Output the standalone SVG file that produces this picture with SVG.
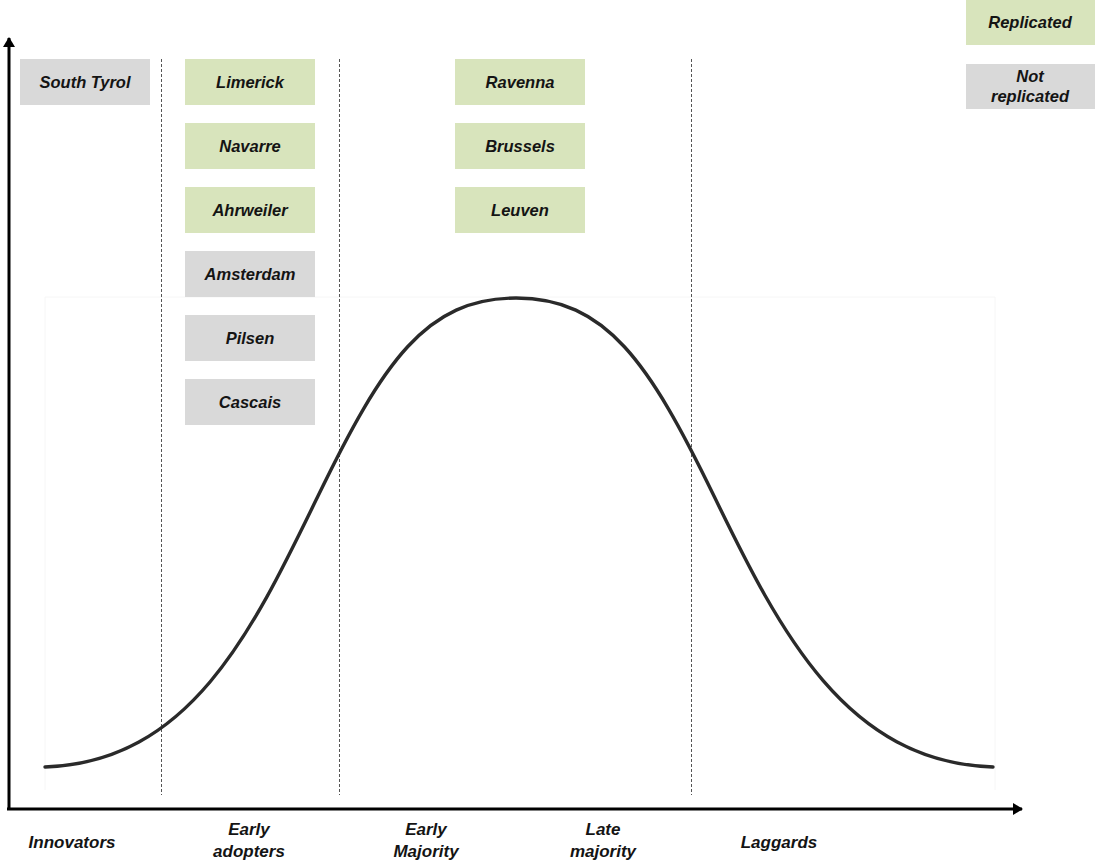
<svg xmlns="http://www.w3.org/2000/svg" width="1097" height="862" viewBox="0 0 1097 862">
  <defs>
    <style>
      .box-rep { fill: #d8e4bc; }
      .box-not { fill: #d9d9d9; }
      .lbl { font-family: "Liberation Sans", Arial, sans-serif; font-weight: bold; font-style: italic; font-size: 16.5px; fill: #141414; text-anchor: middle; }
      .axis-lbl { font-size: 17px; }
      .divider { stroke: #555; stroke-width: 1; stroke-dasharray: 3 2; fill: none; }
      .axis { stroke: #000; stroke-width: 3; fill: none; }
      .curve { stroke: #2a2a2a; stroke-width: 3.4; fill: none; stroke-linecap: round; }
      .frame { stroke: #f6f6f6; stroke-width: 1; fill: none; }
    </style>
    <marker id="arrow" viewBox="0 0 10 12" refX="9" refY="6" markerWidth="10" markerHeight="12" markerUnits="userSpaceOnUse" orient="auto">
      <path d="M0,0 L10,6 L0,12 Z" fill="#000"/>
    </marker>
  </defs>

  <rect width="1097" height="862" fill="#fff"/>

  <!-- faint outline of the curve's plot area -->
  <path class="frame" d="M45,790 V297 H995 V790"/>

  <!-- adoption-phase dividers -->
  <g id="dividers">
    <line class="divider" x1="161.5" y1="59" x2="161.5" y2="795"/>
    <line class="divider" x1="339.5" y1="59" x2="339.5" y2="795"/>
    <line class="divider" x1="691.5" y1="59" x2="691.5" y2="795"/>
  </g>

  <!-- bell curve -->
  <g id="curve">
    <path class="curve" d="M45,767 C190,762 252,632 318,496 C383,362 426,298 516,298 C606,298 649,362 714,496 C780,632 846,762 993,767"/>
  </g>

  <!-- axes -->
  <g id="connectors">
    <line class="axis" x1="9" y1="810" x2="9" y2="38" marker-end="url(#arrow)"/>
    <line class="axis" x1="7" y1="809" x2="1022" y2="809" marker-end="url(#arrow)"/>
  </g>

  <!-- region boxes -->
  <g id="node-south-tyrol"><rect class="box-not" x="20" y="59" width="130" height="46"/><text class="lbl" x="85" y="88">South Tyrol</text></g>

  <g id="node-limerick"><rect class="box-rep" x="185" y="59" width="130" height="46"/><text class="lbl" x="250" y="88">Limerick</text></g>
  <g id="node-navarre"><rect class="box-rep" x="185" y="123" width="130" height="46"/><text class="lbl" x="250" y="152">Navarre</text></g>
  <g id="node-ahrweiler"><rect class="box-rep" x="185" y="187" width="130" height="46"/><text class="lbl" x="250" y="216">Ahrweiler</text></g>
  <g id="node-amsterdam"><rect class="box-not" x="185" y="251" width="130" height="46"/><text class="lbl" x="250" y="280">Amsterdam</text></g>
  <g id="node-pilsen"><rect class="box-not" x="185" y="315" width="130" height="46"/><text class="lbl" x="250" y="344">Pilsen</text></g>
  <g id="node-cascais"><rect class="box-not" x="185" y="379" width="130" height="46"/><text class="lbl" x="250" y="408">Cascais</text></g>

  <g id="node-ravenna"><rect class="box-rep" x="455" y="59" width="130" height="46"/><text class="lbl" x="520" y="88">Ravenna</text></g>
  <g id="node-brussels"><rect class="box-rep" x="455" y="123" width="130" height="46"/><text class="lbl" x="520" y="152">Brussels</text></g>
  <g id="node-leuven"><rect class="box-rep" x="455" y="187" width="130" height="46"/><text class="lbl" x="520" y="216">Leuven</text></g>

  <!-- legend -->
  <g id="legend-replicated"><rect class="box-rep" x="966" y="0" width="129" height="45"/><text class="lbl" x="1030" y="28">Replicated</text></g>
  <g id="legend-not-replicated"><rect class="box-not" x="966" y="64" width="129" height="45"/><text class="lbl" x="1030" y="82">Not</text><text class="lbl" x="1030" y="102">replicated</text></g>

  <!-- phase labels -->
  <g id="phase-labels">
    <text class="lbl axis-lbl" x="72" y="848">Innovators</text>
    <text class="lbl axis-lbl" x="249" y="835">Early</text>
    <text class="lbl axis-lbl" x="249" y="857">adopters</text>
    <text class="lbl axis-lbl" x="426" y="835">Early</text>
    <text class="lbl axis-lbl" x="426" y="857">Majority</text>
    <text class="lbl axis-lbl" x="603" y="835">Late</text>
    <text class="lbl axis-lbl" x="603" y="857">majority</text>
    <text class="lbl axis-lbl" x="779" y="848">Laggards</text>
  </g>
</svg>
